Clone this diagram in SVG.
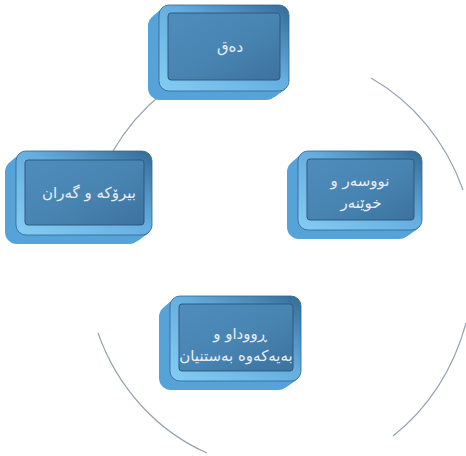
<svg xmlns="http://www.w3.org/2000/svg" width="466" height="456" viewBox="0 0 466 456">
<defs>
<linearGradient id="rim" x1="0" y1="1" x2="1" y2="0">
<stop offset="0" stop-color="#86cdf4"/>
<stop offset="0.55" stop-color="#64addf"/>
<stop offset="1" stop-color="#356a95"/>
</linearGradient>
<linearGradient id="face" x1="0" y1="0" x2="1" y2="1">
<stop offset="0" stop-color="#4f8cbc"/>
<stop offset="0.5" stop-color="#4985b3"/>
<stop offset="1" stop-color="#3c729e"/>
</linearGradient>
<style>
.side{fill:#55a3d9;}
.rim{fill:url(#rim);stroke:#316590;stroke-width:0.8;}
.face{fill:url(#face);stroke:#2c5a80;stroke-width:1;}
.lbl{font-family:"DejaVu Sans","Noto Sans",sans-serif;font-size:15px;fill:#e8eef4;text-anchor:middle;}
.arc{fill:none;stroke:#95a3b0;stroke-width:1.2;}
</style>
</defs>
<rect width="466" height="456" fill="#ffffff"/>
<g id="connectors">
<path class="arc" d="M163,93 A195,211 0 0,0 113,151"/>
<path class="arc" d="M371,78 A195,211 0 0,1 463,190"/>
<path class="arc" d="M466,323 A195,211 0 0,1 393,436"/>
<path class="arc" d="M98,333 A195,211 0 0,0 207,453"/>
</g>
<g id="node-top">
<rect class="side" x="148" y="14" width="130" height="86" rx="12"/>
<rect class="side" x="150" y="12.5" width="130" height="86" rx="11.5"/>
<rect class="side" x="152" y="11" width="130" height="86" rx="11"/>
<rect class="side" x="154" y="9.5" width="130" height="86" rx="11"/>
<rect class="side" x="156" y="8" width="130" height="86" rx="10.5"/>
<rect class="side" x="158" y="6.5" width="130" height="86" rx="10"/>
<rect class="rim" x="159" y="5" width="130" height="86" rx="10"/>
<rect class="face" x="168" y="13" width="112" height="67" rx="3"/>
<text class="lbl" x="230" y="52">دەق</text>
</g>
<g id="node-left">
<rect class="side" x="5" y="160" width="136" height="84" rx="12"/>
<rect class="side" x="7" y="158.5" width="136" height="84" rx="11.5"/>
<rect class="side" x="9" y="157" width="136" height="84" rx="11"/>
<rect class="side" x="11" y="155.5" width="136" height="84" rx="11"/>
<rect class="side" x="13" y="154" width="136" height="84" rx="10.5"/>
<rect class="side" x="15" y="152.5" width="136" height="84" rx="10"/>
<rect class="rim" x="16" y="151" width="136" height="84" rx="10"/>
<rect class="face" x="25" y="160" width="119" height="65" rx="3"/>
<text class="lbl" x="89" y="198">بیرۆکە و گەران</text>
</g>
<g id="node-right">
<rect class="side" x="287" y="160" width="124" height="79" rx="12"/>
<rect class="side" x="289" y="158.5" width="124" height="79" rx="11.5"/>
<rect class="side" x="291" y="157" width="124" height="79" rx="11"/>
<rect class="side" x="293" y="155.5" width="124" height="79" rx="11"/>
<rect class="side" x="295" y="154" width="124" height="79" rx="10.5"/>
<rect class="side" x="297" y="152.5" width="124" height="79" rx="10"/>
<rect class="rim" x="298" y="151" width="124" height="79" rx="10"/>
<rect class="face" x="307" y="159" width="107" height="61" rx="3"/>
<text class="lbl" x="360" y="186">نووسەر و</text>
<text class="lbl" x="361" y="208">خوێنەر</text>
</g>
<g id="node-bottom">
<rect class="side" x="159" y="305" width="131" height="85" rx="12"/>
<rect class="side" x="161" y="303.5" width="131" height="85" rx="11.5"/>
<rect class="side" x="163" y="302" width="131" height="85" rx="11"/>
<rect class="side" x="165" y="300.5" width="131" height="85" rx="11"/>
<rect class="side" x="167" y="299" width="131" height="85" rx="10.5"/>
<rect class="side" x="169" y="297.5" width="131" height="85" rx="10"/>
<rect class="rim" x="170" y="296" width="131" height="85" rx="10"/>
<rect class="face" x="179" y="304" width="114" height="67" rx="3"/>
<text class="lbl" x="240" y="339">ڕووداو و</text>
<text class="lbl" x="236" y="361">بەیەکەوە بەستنیان</text>
</g>
</svg>
